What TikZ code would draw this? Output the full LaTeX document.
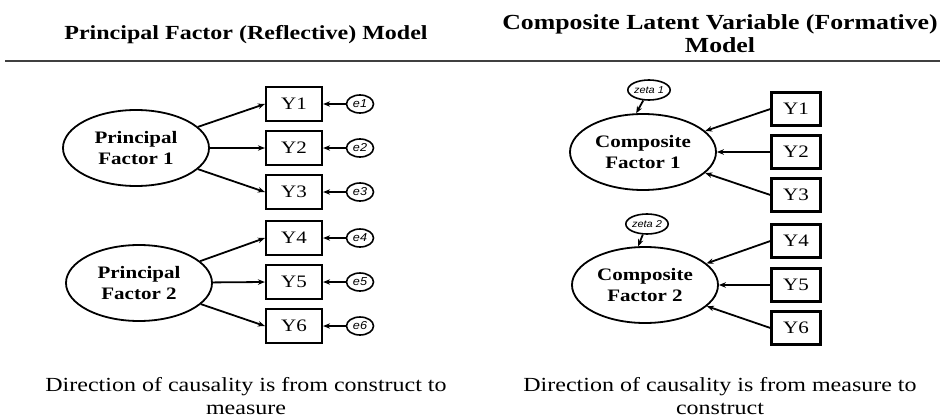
\documentclass[tikz,border=0pt]{standalone}
\usepackage{fontspec}
\setmainfont{Liberation Serif}[FakeStretch=1.2]
\newfontfamily\errfont{Liberation Sans}[FakeStretch=1.1]
\usetikzlibrary{shapes.geometric,arrows.meta}
\begin{document}
\begin{tikzpicture}[x=1pt,y=-1pt,
  lat/.style={draw, ellipse, line width=1.8pt, minimum width=146pt, minimum height=76pt, inner sep=0pt, align=center, font=\fontsize{17.5}{20.5}\selectfont\bfseries},
  obsl/.style={draw, rectangle, line width=2.2pt, minimum width=56pt, minimum height=34pt, inner sep=0pt, font=\fontsize{17.5}{20}\selectfont},
  obsr/.style={obsl, minimum width=49pt, minimum height=33pt},
  err/.style={draw, ellipse, line width=1.6pt, minimum width=27pt, minimum height=18pt, inner sep=0pt, font=\errfont\itshape\fontsize{11.5}{13}\selectfont},
  zet/.style={err, minimum width=40pt, minimum height=20pt, font=\errfont\itshape\fontsize{10}{11}\selectfont},
  arr/.style={line width=1.8pt, -{Stealth[length=7pt,width=5.5pt]}},
  ttl/.style={anchor=base, font=\fontsize{20}{24}\selectfont\bfseries},
  captext/.style={anchor=base, font=\fontsize{20}{24}\selectfont}]
\useasboundingbox (0,0) rectangle (945,420);

% titles
\node[ttl] (t1) at (246,40) {Principal Factor (Reflective) Model};
\node[ttl, font=\fontsize{21.5}{25}\selectfont\bfseries] (t2a) at (720,30) {Composite Latent Variable (Formative)};
\node[ttl, font=\fontsize{21.5}{25}\selectfont\bfseries] (t2b) at (720,53) {Model};
\coordinate (la) at (5,61);
\coordinate (lb) at (940,61);
\draw[line width=2.2pt, black!75] (la) -- (lb);

% left model
\node[lat] (pf1) at (136,148) {Principal\\Factor 1};
\node[lat] (pf2) at (139,283) {Principal\\Factor 2};
\foreach \i/\y in {1/104,2/148,3/192,4/238,5/282,6/326}{
  \node[obsl] (yl\i) at (294,\y) {Y\i};
  \node[err] (e\i) at (360,\y) {e\i};
  \draw[arr] (e\i) -- (yl\i.east);
}
\draw[arr] (pf1) -- (yl1.west);
\draw[arr] (pf1) -- (yl2.west);
\draw[arr] (pf1) -- (yl3.west);
\draw[arr] (pf2) -- (yl4.west);
\draw[arr] (pf2) -- (yl5.west);
\draw[arr] (pf2) -- (yl6.west);

% right model
\node[lat] (cf1) at (643,152) {Composite\\Factor 1};
\node[lat] (cf2) at (645,285) {Composite\\Factor 2};
\foreach \i/\y in {1/109,2/152,3/195,4/241,5/285,6/328}{
  \node[obsr] (yr\i) at (796,\y) {Y\i};
}
\draw[arr] (yr1.west) -- (cf1);
\draw[arr] (yr2.west) -- (cf1);
\draw[arr] (yr3.west) -- (cf1);
\draw[arr] (yr4.west) -- (cf2);
\draw[arr] (yr5.west) -- (cf2);
\draw[arr] (yr6.west) -- (cf2);
\node[zet] (z1) at (649,90) {zeta 1};
\node[zet] (z2) at (647,224) {zeta 2};
\draw[arr] (z1) -- (cf1.100);
\draw[arr] (z2) -- (cf2.100);

% captions
\node[captext] (c1a) at (246,391) {Direction of causality is from construct to};
\node[captext] (c1b) at (246,414) {measure};
\node[captext] (c2a) at (720,391) {Direction of causality is from measure to};
\node[captext] (c2b) at (720,414) {construct};
\end{tikzpicture}
\end{document}
